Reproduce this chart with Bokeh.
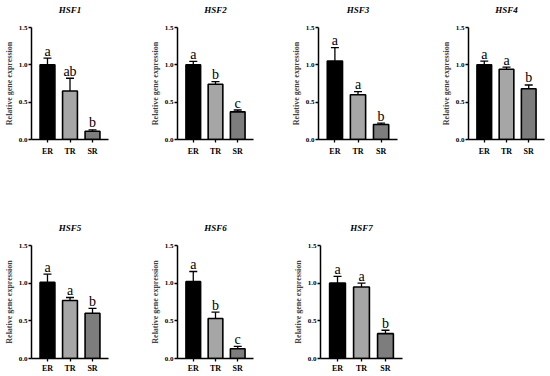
from bokeh.plotting import figure
from bokeh.models import (ColumnDataSource, Whisker, TeeHead, FixedTicker,
                          PrintfTickFormatter, FactorRange, Range1d, Title)
from bokeh.layouts import column, row
from bokeh.embed import file_html
from bokeh.resources import INLINE
from bokeh.core.properties import value

# ---------------- data ----------------
groups = ["ER", "TR", "SR"]
genes = ["HSF1", "HSF2", "HSF3", "HSF4", "HSF5", "HSF6", "HSF7"]

hsf1_mean = [1.00, 0.65, 0.11]
hsf1_se = [0.09, 0.17, 0.02]
hsf1_sig = ["a", "ab", "b"]

hsf2_mean = [1.00, 0.74, 0.37]
hsf2_se = [0.045, 0.035, 0.025]
hsf2_sig = ["a", "b", "c"]

hsf3_mean = [1.05, 0.60, 0.20]
hsf3_se = [0.18, 0.04, 0.02]
hsf3_sig = ["a", "a", "b"]

hsf4_mean = [1.00, 0.94, 0.68]
hsf4_se = [0.05, 0.03, 0.05]
hsf4_sig = ["a", "a", "b"]

hsf5_mean = [1.01, 0.77, 0.60]
hsf5_se = [0.11, 0.04, 0.065]
hsf5_sig = ["a", "a", "b"]

hsf6_mean = [1.02, 0.53, 0.13]
hsf6_se = [0.135, 0.085, 0.03]
hsf6_sig = ["a", "b", "c"]

hsf7_mean = [1.00, 0.95, 0.33]
hsf7_se = [0.09, 0.05, 0.045]
hsf7_sig = ["a", "a", "b"]

y_ticks = [0.0, 0.5, 1.0, 1.5]
bar_colors = ["#000000", "#a6a6a6", "#7d7d7d"]

SERIF = "Liberation Serif"


def make_panel(gene, means, ses, letters, width, height, bl, br, bt, bb,
               toff, xstand):
    upper = [m + s for m, s in zip(means, ses)]
    src = ColumnDataSource(dict(x=groups, top=means, upper=upper,
                                letter=letters, fillc=bar_colors))
    p = figure(x_range=FactorRange(factors=groups, range_padding=0.14),
               y_range=Range1d(0, 1.5), width=width, height=height,
               output_backend="svg", toolbar_location=None,
               min_border_left=bl, min_border_right=br,
               min_border_top=bt, min_border_bottom=bb)
    # invisible spacer between frame and title (lifts the title)
    p.add_layout(Title(text=" ", text_font_size="8px", standoff=0), "above")
    p.title.text = gene
    p.title.text_font = SERIF
    p.title.text_font_style = "bold italic"
    p.title.text_font_size = "9px"
    p.title.text_color = "black"
    p.title.align = "center"
    p.title.standoff = 4
    p.title.offset = toff

    p.vbar(x="x", top="top", width=0.66, source=src, fill_color="fillc",
           line_color="black", line_width=1.6)
    w = Whisker(source=src, base="x", lower="top", upper="upper",
                line_color="black", line_width=1.3, lower_head=None,
                upper_head=TeeHead(size=8, line_color="black", line_width=1.3),
                level="overlay")
    p.add_layout(w)
    p.text(x="x", y="upper", text="letter", source=src, text_align="center",
           text_baseline="alphabetic", y_offset=-7,
           text_font=value(SERIF), text_font_size="14px",
           text_color="#000000")

    p.xgrid.visible = False
    p.ygrid.visible = False
    p.outline_line_color = None
    p.background_fill_color = "white"
    p.border_fill_color = "white"

    for ax in (p.xaxis[0], p.yaxis[0]):
        ax.axis_line_color = "black"
        ax.axis_line_width = 1.5
        ax.major_tick_line_color = "black"
        ax.major_tick_line_width = 1.3
        ax.major_tick_out = 3
        ax.major_tick_in = 0
        ax.minor_tick_line_color = None
        ax.major_label_text_font = SERIF
        ax.major_label_text_font_style = "bold"
        ax.major_label_text_color = "black"

    p.xaxis.major_label_text_font_size = "8px"
    p.xaxis.major_label_standoff = xstand
    p.yaxis.major_label_text_font_size = "7px"
    p.yaxis.major_label_standoff = 1
    p.yaxis.ticker = FixedTicker(ticks=y_ticks)
    p.yaxis.formatter = PrintfTickFormatter(format="%.1f")
    p.yaxis.axis_label = "Relative gene expression"
    p.yaxis.axis_label_text_font = SERIF
    p.yaxis.axis_label_text_font_style = "bold"
    p.yaxis.axis_label_text_font_size = "8px"
    p.yaxis.axis_label_standoff = 2
    return p


data = [
    (hsf1_mean, hsf1_se, hsf1_sig),
    (hsf2_mean, hsf2_se, hsf2_sig),
    (hsf3_mean, hsf3_se, hsf3_sig),
    (hsf4_mean, hsf4_se, hsf4_sig),
    (hsf5_mean, hsf5_se, hsf5_sig),
    (hsf6_mean, hsf6_se, hsf6_sig),
    (hsf7_mean, hsf7_se, hsf7_sig),
]

# layout (width, left border, right border, title offset) per column
cols_top = [(140, 31, 32, -10), (145, 37, 32, 0), (150, 33, 38, 0), (115, 33, 6, 0)]
cols_bot = [(140, 31, 32, -4), (145, 37, 32, -2), (150, 35, 33, -8)]

top_figs = []
for i in range(4):
    w_, bl, br, to = cols_top[i]
    m, s, l = data[i]
    top_figs.append(make_panel(genes[i], m, s, l, w_, 161, bl, br, 25, 22, to, 4))

bot_figs = []
for i in range(3):
    w_, bl, br, to = cols_bot[i]
    m, s, l = data[4 + i]
    bot_figs.append(make_panel(genes[4 + i], m, s, l, w_, 215, bl, br, 84, 18, to, 2))

layout = column(row(*top_figs), row(*bot_figs))

open("out.html", "w").write(file_html(layout, INLINE))
